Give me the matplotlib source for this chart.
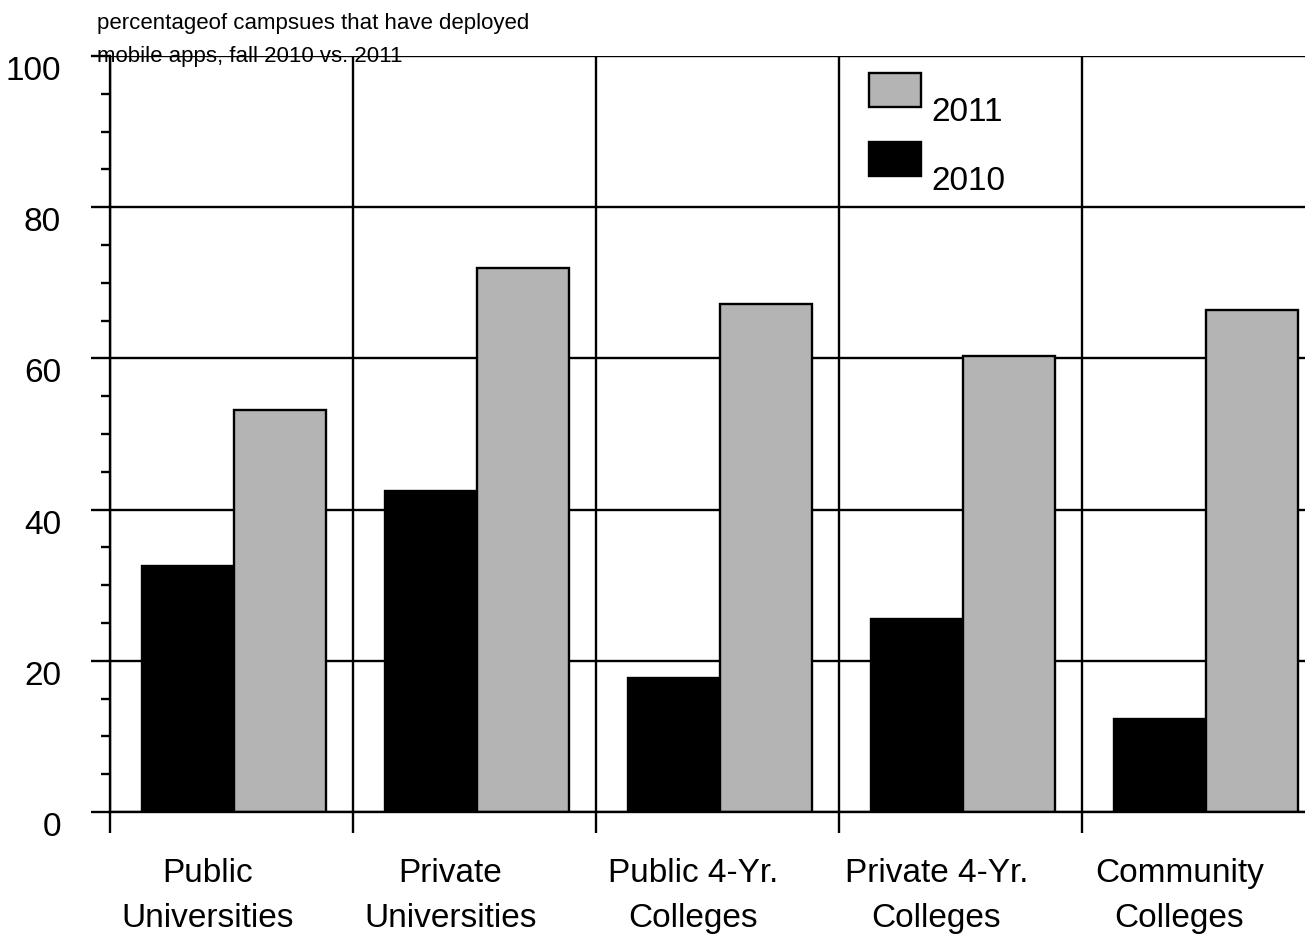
import matplotlib
matplotlib.use('Agg')
import numpy as np
import matplotlib.pyplot as plt
from matplotlib import font_manager
from matplotlib.ticker import FixedLocator, MultipleLocator
from matplotlib.transforms import ScaledTranslation


CATEGORIES = ['Public\nUniversities', 'Private\nUniversities', 'Public 4-Yr.\nColleges',
              'Private 4-Yr.\nColleges', 'Community\nColleges']
VALUES_2010 = [32.5, 42.5, 17.7, 25.5, 12.3]
VALUES_2011 = [53.2, 72.0, 67.2, 60.3, 66.4]
Y_TICKS = [0, 20, 40, 60, 80, 100]
TITLE = 'percentageof campsues that have deployed\nmobile apps, fall 2010 vs. 2011'

# Narrow sans looks closest to the original; fall back if it is missing.
names = {f.name for f in font_manager.fontManager.ttflist}
FONT = 'Liberation Sans Narrow' if 'Liberation Sans Narrow' in names else 'Liberation Sans'
plt.rcParams['font.family'] = [FONT, 'DejaVu Sans']

LW = 1.7
FS = 24

W, H = 1305, 943
fig = plt.figure(figsize=(W / 100, H / 100), dpi=100)
# the plot area runs off the right edge, as in the original
ax = fig.add_axes([110 / W, 131 / H, 1215 / W, 756 / H])

x = np.arange(len(CATEGORIES))
bar_w = 0.38
b10 = ax.bar(x + 0.13, VALUES_2010, width=bar_w, align='edge', color='black',
             edgecolor='black', linewidth=LW, zorder=2)
b11 = ax.bar(x + 0.13 + bar_w, VALUES_2011, width=bar_w, align='edge', color='#b4b4b4',
             edgecolor='black', linewidth=LW, zorder=2)

ax.set_xlim(0, len(CATEGORIES))
ax.set_ylim(0, 100)

# y axis: labelled major ticks every 20, small ticks every 5
ax.yaxis.set_major_locator(FixedLocator(Y_TICKS))
ax.yaxis.set_minor_locator(MultipleLocator(5))
ax.tick_params(axis='y', which='major', length=13.7, width=LW, pad=21.5, labelsize=FS)
ax.tick_params(axis='y', which='minor', length=6.5, width=LW)
for lab in ax.get_yticklabels():
    lab.set_verticalalignment('top')

# x axis: ticks at the group borders, names slightly left of the group centre
ax.xaxis.set_major_locator(FixedLocator(np.arange(len(CATEGORIES) + 1)))
ax.xaxis.set_minor_locator(FixedLocator(x + 0.4))
ax.set_xticklabels([], minor=False)
ax.set_xticklabels(CATEGORIES, minor=True, linespacing=1.6)
ax.tick_params(axis='x', which='major', length=15, width=LW)
ax.tick_params(axis='x', which='minor', length=0, pad=33, labelsize=FS)

ax.grid(True, which='major', color='black', linewidth=LW)
ax.set_axisbelow(True)
for side in ['top', 'right']:
    ax.spines[side].set_visible(False)
for side in ['left', 'bottom']:
    ax.spines[side].set_linewidth(LW)

leg = ax.legend([b11, b10], ['2011', '2010'], loc='upper left', bbox_to_anchor=(0.6247, 0.9775),
                frameon=False, fontsize=FS, borderpad=0, borderaxespad=0,
                handlelength=1.56, handleheight=1.2, handletextpad=0.3, labelspacing=1.0)
# the legend labels sit a little below their boxes in the original
for t in leg.get_texts():
    t.set_transform(t.get_transform() + ScaledTranslation(0, -0.2, fig.dpi_scale_trans))

fig.text(97 / W, 1 - 13 / H, TITLE, ha='left', va='top', fontsize=16, linespacing=1.75)

fig.savefig('out.png', dpi=100)
